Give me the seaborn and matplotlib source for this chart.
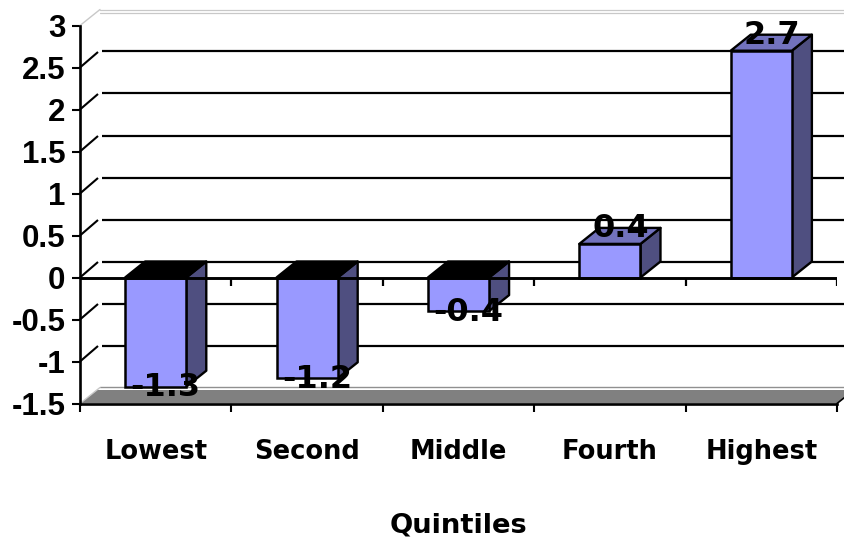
import matplotlib
matplotlib.use("Agg")
import matplotlib.pyplot as plt
import seaborn as sns
from matplotlib.patches import Polygon

# Values and labels
quintiles = ["Lowest", "Second", "Middle", "Fourth", "Highest"]
values = [-1.3, -1.2, -0.4, 0.4, 2.7]
y_ticks = [-1.5, -1, -0.5, 0, 0.5, 1, 1.5, 2, 2.5, 3]
y_tick_labels = ["-1.5", "-1", "-0.5", "0", "0.5", "1", "1.5", "2", "2.5", "3"]
x_title = "Quintiles"

# Colours of the extruded bars
FRONT = "#9999ff"
SIDE = "#4f4f80"
TOP_POS = "#7272bd"
TOP_NEG = "#000000"
FLOOR = "#808080"
WALL = "#c8c8c8"

W, H, DPI = 844, 541, 100
sns.set_theme(style="white")
plt.rcParams["font.family"] = ["DejaVu Sans"]

fig = plt.figure(figsize=(W / DPI, H / DPI), dpi=DPI, facecolor="white")
ax = fig.add_axes([80 / W, 1 - 403.5 / H, (837 - 80) / W, (403.5 - 25.5) / H])
ax.patch.set_alpha(0)

sns.barplot(x=quintiles, y=values, color=FRONT, saturation=1, width=0.404,
            edgecolor="black", linewidth=1.8, ax=ax, zorder=5)
ax.set_xlim(-0.5, 4.5)
ax.set_ylim(-1.5, 3)

# Depth of the oblique projection, in data units
px_x = 5 / (837 - 80)
px_y = 4.5 / (403.5 - 25.5)
dx = 20 * px_x
dy = 16 * px_y
x0, x1 = -0.5, 4.5
y_low = -1.5

# Floor of the chart box
floor_dy = 13.5 * px_y
ax.add_patch(Polygon([(x0, y_low), (x1, y_low), (x1 + dx * 0.85, y_low + floor_dy), (x0 + dx * 0.85, y_low + floor_dy)],
                     closed=True, facecolor=FLOOR, edgecolor="none", clip_on=False, zorder=1))
ax.plot([x0 + dx, x1 + dx], [y_low + dy + 0.5 * px_y] * 2, color="#909090", lw=1,
        clip_on=False, zorder=1)

# Back-wall gridlines and their diagonals on the side wall
for tick in y_ticks:
    if tick == y_low:
        ax.plot([x0, x0 + dx], [tick, tick + dy], color=WALL, lw=1, clip_on=False, zorder=1)
    elif tick == 3:
        ax.plot([x0, x0 + dx], [tick, tick + dy], color=WALL, lw=1, clip_on=False, zorder=1)
        for offset in (0, 3):
            ax.plot([x0 + dx, x1 + dx], [tick + dy - offset * px_y] * 2, color=WALL, lw=0.9,
                    clip_on=False, zorder=1)
    else:
        ax.plot([x0, x0 + dx - 2 * px_x], [tick, tick + dy - 0.5 * px_y], color="black", lw=1.5,
                clip_on=False, zorder=1, solid_capstyle="butt")
        ax.plot([x0 + dx + 2 * px_x, x1 + dx], [tick + dy] * 2, color="black", lw=1.6,
                clip_on=False, zorder=1, solid_capstyle="butt")

# Side and end faces of each bar, taken from the bars seaborn drew
for bar, value in zip(ax.patches[:], values):
    left, right = bar.get_x(), bar.get_x() + bar.get_width()
    side = [(right, 0), (right + dx, dy), (right + dx, value + dy), (right, value)]
    ax.add_patch(Polygon(side, closed=True, facecolor=SIDE, edgecolor="black", lw=1.7,
                         joinstyle="round", clip_on=False, zorder=4))
    # negative bars show their dark cap at the zero plane, positive ones at the value
    cap_y = max(value, 0)
    cap = [(left, cap_y), (right, cap_y), (right + dx, cap_y + dy), (left + dx, cap_y + dy)]
    ax.add_patch(Polygon(cap, closed=True, facecolor=TOP_POS if value > 0 else TOP_NEG,
                         edgecolor="black", lw=1.7, joinstyle="round", clip_on=False, zorder=4))

# Axis line at zero with its downward ticks
ax.axhline(0, color="black", lw=2.1, zorder=6, solid_capstyle="butt")
boundaries = [-0.5, 0.5, 1.5, 2.5, 3.5, 4.5]
ax.vlines(boundaries[1:], -8 * px_y, 0, color="black", lw=1.6, zorder=3)
ax.plot([x1, x1 + 7 * px_x], [y_low, y_low + 5.6 * px_y], color="black", lw=1.2, zorder=3, clip_on=False)

# Data labels
offsets = {True: (11, 15), False: (10, -1)}
for i, value in enumerate(values):
    ox, oy = offsets[value > 0]
    ax.annotate(f"{value:.1f}", (i, value), xytext=(ox, oy), textcoords="offset pixels",
                ha="center", va="center", fontsize=23, fontweight="bold", color="black",
                zorder=8, annotation_clip=False)

# Axes furniture
sns.despine(ax=ax, top=True, right=True)
for name in ("left", "bottom"):
    ax.spines[name].set_color("black")
    ax.spines[name].set_linewidth(1.9)
    ax.spines[name].set_zorder(7)
ax.set_yticks(y_ticks)
ax.set_yticklabels(y_tick_labels, fontsize=22.5, fontweight="bold", family="Liberation Sans")
ax.tick_params(axis="y", left=True, length=5.5, width=1.5, pad=5, color="black", labelcolor="black")

ax.set_xticks(boundaries)
ax.set_xticklabels([""] * len(boundaries))
ax.tick_params(axis="x", which="major", bottom=True, length=5.5, width=1.5, color="black")
ax.set_xticks(range(len(quintiles)), minor=True)
ax.set_xticklabels(quintiles, minor=True, fontsize=18.5, fontweight="bold", color="black")
ax.tick_params(axis="x", which="minor", bottom=False, length=0, pad=25.5)
ax.set_xlabel(x_title, fontsize=19.7, fontweight="bold", color="black", labelpad=34)

fig.savefig("out.png", dpi=DPI, facecolor="white")
